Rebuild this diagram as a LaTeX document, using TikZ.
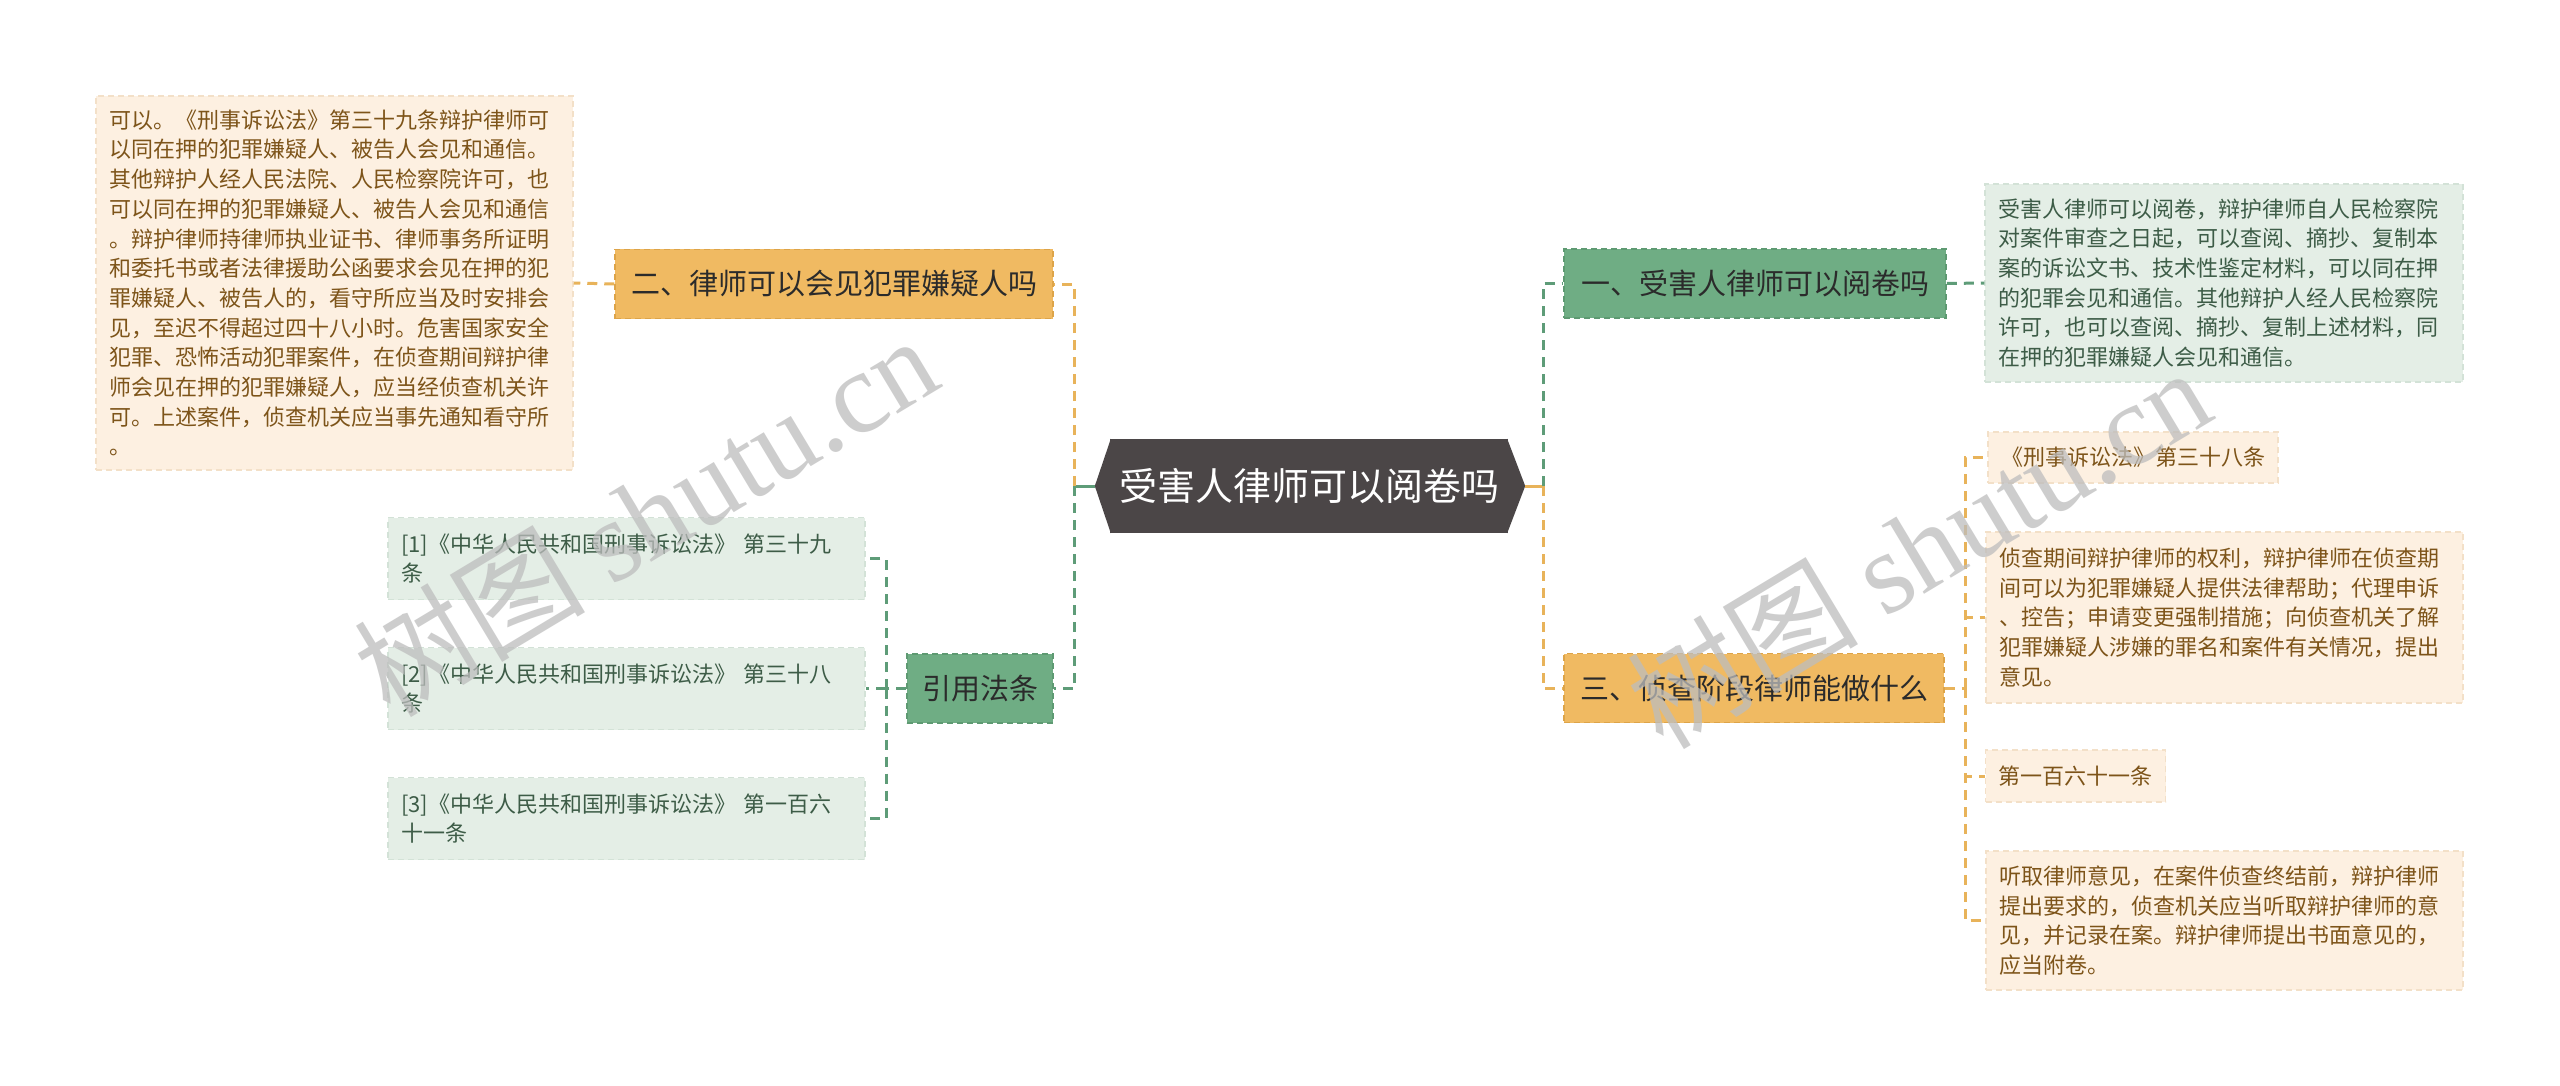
\documentclass[tikz,border=0pt]{standalone}
\usepackage{fontspec}
\setmainfont{Noto Sans CJK SC}
\newfontfamily\wmfont{Liberation Serif}
\usepackage{xcolor}
\usepackage{tikz}

\definecolor{rootc}{HTML}{4B4647}
\definecolor{ofill}{HTML}{F0BA62}
\definecolor{oedge}{HTML}{DDA449}
\definecolor{gfill}{HTML}{6FAD84}
\definecolor{gedge}{HTML}{5E9A72}
\definecolor{pfill}{HTML}{FDF0E1}
\definecolor{pedge}{HTML}{F3E0C8}
\definecolor{ptxt}{HTML}{7D5419}
\definecolor{lgfill}{HTML}{E4EEE6}
\definecolor{lgedge}{HTML}{D3E2D7}
\definecolor{lgtxt}{HTML}{3D5C47}
\definecolor{btxt}{HTML}{2B2B2B}
\definecolor{olinec}{HTML}{E8B35A}
\definecolor{glinec}{HTML}{5E9C78}
\definecolor{wmc}{HTML}{BDBDBD}

\begin{document}
\begin{tikzpicture}[x=1pt,y=-1pt,
  branch/.style={inner sep=0pt, minimum height=69pt, line width=1.5pt, dash pattern=on 6pt off 4pt, text=btxt, font=\fontsize{29}{34}\selectfont},
  obranch/.style={branch, fill=ofill, draw=oedge},
  gbranch/.style={branch, fill=gfill, draw=gedge},
  pleaf/.style={fill=pfill, draw=pedge, line width=1.5pt, dash pattern=on 6pt off 4pt, text=ptxt, align=left, inner xsep=13pt, inner ysep=0pt, font=\fontsize{22}{29.7}\selectfont},
  gleaf/.style={pleaf, fill=lgfill, draw=lgedge, text=lgtxt},
  olink/.style={draw=olinec, line width=3pt, dash pattern=on 10pt off 7pt},
  glink/.style={draw=glinec, line width=3pt, dash pattern=on 10pt off 7pt},
  wm/.style={text=wmc, opacity=0.75, font=\fontsize{116}{124}\selectfont}]

\fill[white] (0,0) rectangle (2560,1086);
\useasboundingbox (0,0) rectangle (2560,1086);

\node[fill=rootc, text=white, inner sep=0pt, minimum width=398pt, minimum height=94pt, font=\fontsize{38}{44}\selectfont] (root) at (1309,486) {受害人律师可以阅卷吗};
\fill[rootc] ([xshift=1pt]root.north west) -- ([xshift=-15pt]root.west) -- ([xshift=1pt]root.south west) -- cycle;
\fill[rootc] ([xshift=-1pt]root.north east) -- ([xshift=17pt]root.east) -- ([xshift=-1pt]root.south east) -- cycle;
\coordinate (rw) at ([xshift=-15pt]root.west);
\coordinate (re) at ([xshift=17pt]root.east);

\node[obranch, minimum width=438pt] (b2) at (834,284) {二、律师可以会见犯罪嫌疑人吗};
\node[gbranch, minimum width=146pt] (cite) at (980,688.5) {引用法条};
\node[gbranch, minimum width=382pt] (b1) at (1755,283.5) {一、受害人律师可以阅卷吗};
\node[obranch, minimum width=380pt] (b3) at (1754,688) {三、侦查阶段律师能做什么};

\node[pleaf, text width=451pt, minimum height=374pt] (l2) at (334.5,283) {可以。《刑事诉讼法》第三十九条辩护律师可\\以同在押的犯罪嫌疑人、被告人会见和通信。\\其他辩护人经人民法院、人民检察院许可，也\\可以同在押的犯罪嫌疑人、被告人会见和通信\\。辩护律师持律师执业证书、律师事务所证明\\和委托书或者法律援助公函要求会见在押的犯\\罪嫌疑人、被告人的，看守所应当及时安排会\\见，至迟不得超过四十八小时。危害国家安全\\犯罪、恐怖活动犯罪案件，在侦查期间辩护律\\师会见在押的犯罪嫌疑人，应当经侦查机关许\\可。上述案件，侦查机关应当事先通知看守所\\。};

\node[gleaf, text width=451pt, minimum height=82pt] (r1) at (626.5,558.5) {[1]《中华人民共和国刑事诉讼法》 第三十九\\条};
\node[gleaf, text width=451pt, minimum height=82pt] (r2) at (626.5,688.5) {[2]《中华人民共和国刑事诉讼法》 第三十八\\条};
\node[gleaf, text width=451pt, minimum height=82pt] (r3) at (626.5,818.5) {[3]《中华人民共和国刑事诉讼法》 第一百六\\十一条};

\node[gleaf, text width=452pt, minimum height=198pt] (t1) at (2224,283) {受害人律师可以阅卷，辩护律师自人民检察院\\对案件审查之日起，可以查阅、摘抄、复制本\\案的诉讼文书、技术性鉴定材料，可以同在押\\的犯罪会见和通信。其他辩护人经人民检察院\\许可，也可以查阅、摘抄、复制上述材料，同\\在押的犯罪嫌疑人会见和通信。};

\node[pleaf, minimum height=51pt] (s1) at (2133,457.5) {《刑事诉讼法》第三十八条};
\node[pleaf, text width=451pt, minimum height=171pt] (s2) at (2224.5,617.5) {侦查期间辩护律师的权利，辩护律师在侦查期\\间可以为犯罪嫌疑人提供法律帮助；代理申诉\\、控告；申请变更强制措施；向侦查机关了解\\犯罪嫌疑人涉嫌的罪名和案件有关情况，提出\\意见。};
\node[pleaf, minimum height=52pt] (s3) at (2075.5,776) {第一百六十一条};
\node[pleaf, text width=451pt, minimum height=139pt] (s4) at (2224.5,920.5) {听取律师意见，在案件侦查终结前，辩护律师\\提出要求的，侦查机关应当听取辩护律师的意\\见，并记录在案。辩护律师提出书面意见的，\\应当附卷。};

\coordinate (jl) at (1074,486);
\coordinate (jr) at (1543,486);
\coordinate (jc) at (886,688.5);
\coordinate (j3) at (1965,688);

\draw[glinec, line width=3pt] (rw) -- (jl);
\draw[olinec, line width=3pt] (re) -- (jr);
\draw[olink] (jl) |- (b2.east);
\draw[glink] (jl) |- (cite.east);
\draw[glink] (jr) |- (b1.west);
\draw[olink] (jr) |- (b3.west);

\draw[olink] (b2.west) -- (l2.east);
\draw[glink] (b1.east) -- (t1.west);

\draw[glink] (cite.west) -- (jc);
\draw[glink] (jc) |- (r1.east);
\draw[glink] (jc) -- (r2.east);
\draw[glink] (jc) |- (r3.east);

\draw[olink] (b3.east) -- (j3);
\draw[olink] (j3) |- (s1.west);
\draw[olink] (j3) |- (s2.west);
\draw[olink] (j3) |- (s3.west);
\draw[olink] (j3) |- (s4.west);

\node[wm, rotate=31] (wm1) at (645,515) {树图 {\wmfont shutu.cn}};
\node[wm, rotate=31] (wm2) at (1918,547) {树图 {\wmfont shutu.cn}};
\end{tikzpicture}
\end{document}
